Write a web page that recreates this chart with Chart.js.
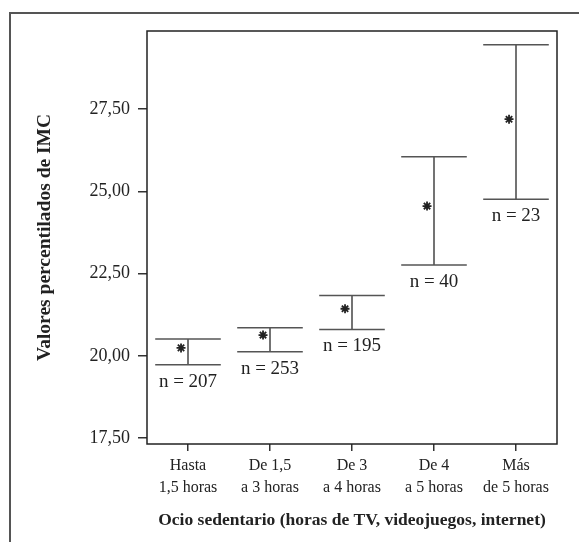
<!DOCTYPE html>
<html>
<head>
<meta charset="utf-8">
<script src="https://cdn.jsdelivr.net/npm/chart.js@4"></script>
<style>
  html, body { margin: 0; padding: 0; background: #fff; overflow: hidden; }
  #wrap { position: relative; width: 579px; height: 542px; }
  #frame { position: absolute; left: 9px; top: 12px; width: 700px; height: 700px;
           border-left: 2px solid #555; border-top: 2px solid #555; }
  canvas { position: absolute; left: 0; top: 0; }
</style>
</head>
<body>
<div id="wrap">
  <div id="frame"></div>
  <canvas id="chart" width="579" height="542"></canvas>
</div>
<script>
// categories (two lines each) and values
var categories = [['Hasta', '1,5 horas'], ['De 1,5', 'a 3 horas'], ['De 3', 'a 4 horas'], ['De 4', 'a 5 horas'], ['Más', 'de 5 horas']];
var means = [20.24, 20.63, 21.43, 24.55, 27.19];
var lower = [19.73, 20.12, 20.80, 22.76, 24.76];
var upper = [20.51, 20.85, 21.83, 26.05, 29.45];
var counts = [207, 253, 195, 40, 23];
var yTicks = [17.5, 20, 22.5, 25, 27.5];

var serif = 'Liberation Serif';
var MEAN_SHIFT = -0.085; // the asterisk sits a bit left of the bar
var CAP_HALF = 0.4;

var errorBars = {
  id: 'errorBars',
  beforeDatasetsDraw: function(chart) {
    var ctx = chart.ctx, x = chart.scales.x, y = chart.scales.y;
    ctx.save();
    ctx.lineWidth = 1.5;
    for (var i = 0; i < categories.length; i++) {
      var cx = x.getPixelForValue(i + 1);
      var l = x.getPixelForValue(i + 1 - CAP_HALF), r = x.getPixelForValue(i + 1 + CAP_HALF);
      var yt = y.getPixelForValue(upper[i]), yb = y.getPixelForValue(lower[i]);
      ctx.strokeStyle = '#444';
      ctx.beginPath();
      ctx.moveTo(cx, yt); ctx.lineTo(cx, yb);
      ctx.stroke();
      ctx.strokeStyle = '#555';
      ctx.beginPath();
      ctx.moveTo(l, yt); ctx.lineTo(r, yt);
      ctx.moveTo(l, yb); ctx.lineTo(r, yb);
      ctx.stroke();
      // sample size under the lower cap
      ctx.fillStyle = '#222';
      ctx.font = '19px "' + serif + '"';
      ctx.textAlign = 'center';
      ctx.textBaseline = 'alphabetic';
      ctx.fillText('n = ' + counts[i], cx, yb + 22);
    }
    ctx.restore();
  },
  afterDraw: function(chart) {
    var ctx = chart.ctx, a = chart.chartArea;
    ctx.save();
    ctx.strokeStyle = '#222';
    ctx.lineWidth = 1.5;
    ctx.strokeRect(a.left, a.top, a.right - a.left, a.bottom - a.top);
    ctx.restore();
  }
};

new Chart(document.getElementById('chart'), {
  type: 'scatter',
  data: {
    datasets: [{
      label: 'Media',
      data: means.map(function(m, i) { return { x: i + 1 + MEAN_SHIFT, y: m }; }),
      pointStyle: 'star',
      radius: 4.5,
      borderWidth: 1.8,
      borderColor: '#222',
      backgroundColor: '#222'
    }]
  },
  options: {
    responsive: false,
    animation: false,
    layout: { padding: { left: 0, right: 22, top: 31, bottom: 0 } },
    plugins: { legend: { display: false }, tooltip: { enabled: false } },
    scales: {
      x: {
        type: 'linear',
        min: 0.5,
        max: 5.5,
        afterBuildTicks: function(s) { s.ticks = categories.map(function(c, i) { return { value: i + 1 }; }); },
        afterFit: function(s) { s.height = 98; },
        ticks: {
          callback: function(v) { return categories[v - 1]; },
          font: { family: serif, size: 16, lineHeight: 1.35 },
          color: '#222',
          padding: 4,
          maxRotation: 0,
          autoSkip: false
        },
        grid: { drawOnChartArea: false, tickLength: 7, color: '#333', lineWidth: 1.5 },
        border: { display: false },
        title: {
          display: true,
          text: 'Ocio sedentario (horas de TV, videojuegos, internet)',
          font: { family: serif, size: 17.5, weight: 'bold' },
          color: '#222',
          padding: { top: 0, bottom: 11 }
        }
      },
      y: {
        min: 17.32,
        max: 29.87,
        afterBuildTicks: function(s) { s.ticks = yTicks.map(function(v) { return { value: v }; }); },
        afterFit: function(s) { s.width = 147; },
        ticks: {
          callback: function(v) { return v.toFixed(2).replace('.', ','); },
          font: { family: serif, size: 18 },
          color: '#222',
          padding: 8
        },
        grid: { drawOnChartArea: false, tickLength: 9, color: '#333', lineWidth: 1.5 },
        border: { display: false },
        title: {
          display: true,
          text: 'Valores percentilados de IMC',
          font: { family: serif, size: 19.5, weight: 'bold' },
          color: '#222',
          padding: { top: 33, bottom: 0 }
        }
      }
    }
  },
  plugins: [errorBars]
});
</script>
</body>
</html>
